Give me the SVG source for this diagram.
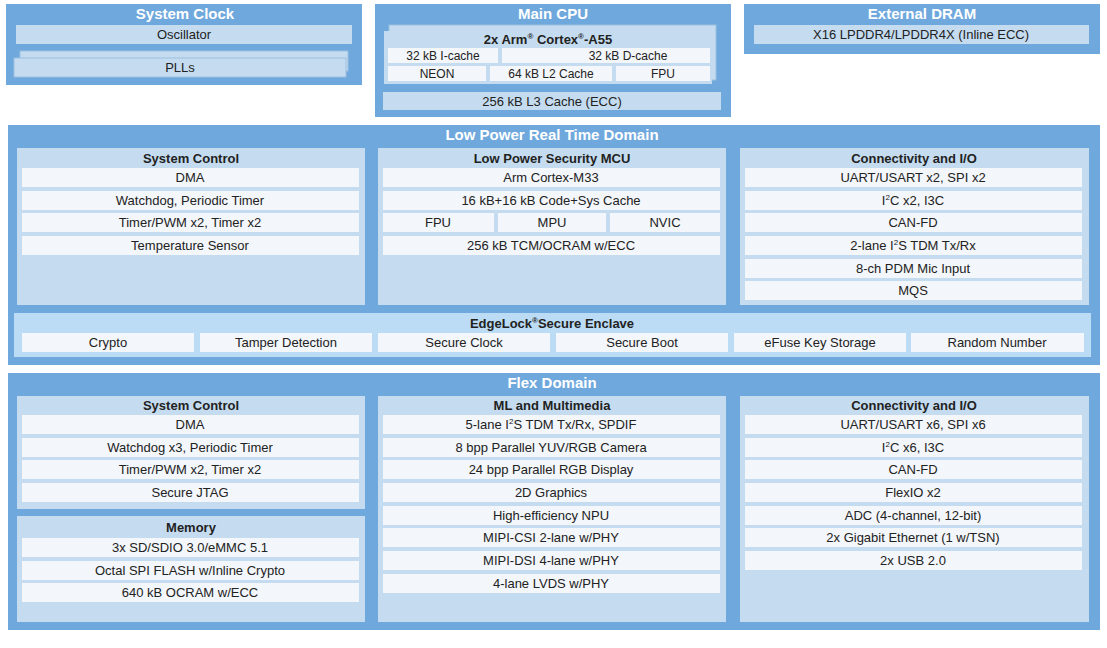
<svg xmlns="http://www.w3.org/2000/svg" width="1107" height="648" viewBox="0 0 1107 648">
<style>
.o{fill:#6fa8dc}
.p{fill:#c5dcf0}
.e{fill:#bcdcf5}
.c{fill:#f3f6fa}
.s{fill:#c5dcf0;stroke:#9cbfe0;stroke-width:1}
text{font-family:"Liberation Sans",Arial,sans-serif;text-anchor:middle;fill:#222}
.t{font-size:15px;font-weight:bold;fill:#fff}
.h{font-size:13px;font-weight:bold}
.i{font-size:13px}
</style>
<rect width="1107" height="648" fill="#fff"/>
<g id="sysclock">
<rect class="o" x="6" y="4" width="356" height="81"/>
<text class="t" x="185" y="19">System Clock</text>
<rect class="p" x="16" y="25" width="336" height="19"/><text class="i" x="184" y="39">Oscillator</text>
<rect class="s" x="20" y="51" width="328" height="20"/>
<rect class="s" x="14" y="58" width="332" height="19"/><text class="i" x="180" y="72">PLLs</text>
</g>
<g id="maincpu">
<rect class="o" x="375" y="4" width="356" height="113"/>
<text class="t" x="553" y="19">Main CPU</text>
<rect class="s" x="389" y="25" width="327" height="55"/>
<rect class="p" x="384" y="31" width="328" height="53"/>
<text class="h" x="548" y="44">2x Arm<tspan font-size="8" dy="-5">®</tspan><tspan dy="5"> Cortex</tspan><tspan font-size="8" dy="-5">®</tspan><tspan dy="5">-A55</tspan></text>
<rect class="c" x="388" y="48" width="110" height="15"/><text font-size="12" x="443" y="60">32 kB I-cache</text>
<rect class="c" x="502" y="48" width="208" height="15"/><text font-size="12" x="628" y="60">32 kB D-cache</text>
<rect class="c" x="388" y="66" width="98" height="15"/><text font-size="12" x="437" y="78">NEON</text>
<rect class="c" x="490" y="66" width="122" height="15"/><text font-size="12" x="551" y="78">64 kB L2 Cache</text>
<rect class="c" x="616" y="66" width="94" height="15"/><text font-size="12" x="663" y="78">FPU</text>
<rect class="p" x="383" y="92" width="338" height="18"/><text class="i" x="552" y="106">256 kB L3 Cache (ECC)</text>
</g>
<g id="dram">
<rect class="o" x="744" y="4" width="356" height="50"/>
<text class="t" x="922" y="19">External DRAM</text>
<rect class="p" x="754" y="25" width="335" height="19"/><text class="i" x="921" y="39">X16 LPDDR4/LPDDR4X (Inline ECC)</text>
</g>
<g id="lprt">
<rect class="o" x="8" y="125" width="1092" height="240"/>
<text class="t" x="552" y="140">Low Power Real Time Domain</text>
</g>
<g id="lp-sysctrl">
<rect class="p" x="17" y="148" width="348" height="157"/>
<text class="h" x="191" y="163">System Control</text>
<rect class="c" x="22" y="168" width="337" height="19"/><text class="i" x="190" y="182">DMA</text>
<rect class="c" x="22" y="191" width="337" height="19"/><text class="i" x="190" y="205">Watchdog, Periodic Timer</text>
<rect class="c" x="22" y="213" width="337" height="19"/><text class="i" x="190" y="227">Timer/PWM x2, Timer x2</text>
<rect class="c" x="22" y="236" width="337" height="19"/><text class="i" x="190" y="250">Temperature Sensor</text>
</g>
<g id="lp-mcu">
<rect class="p" x="378" y="148" width="348" height="157"/>
<text class="h" x="552" y="163">Low Power Security MCU</text>
<rect class="c" x="383" y="168" width="337" height="19"/><text class="i" x="551" y="182">Arm Cortex-M33</text>
<rect class="c" x="383" y="191" width="337" height="19"/><text class="i" x="551" y="205">16 kB+16 kB Code+Sys Cache</text>
<rect class="c" x="383" y="213" width="111" height="19"/><text class="i" x="438" y="227">FPU</text>
<rect class="c" x="498" y="213" width="108" height="19"/><text class="i" x="552" y="227">MPU</text>
<rect class="c" x="610" y="213" width="110" height="19"/><text class="i" x="665" y="227">NVIC</text>
<rect class="c" x="383" y="236" width="337" height="19"/><text class="i" x="551" y="250">256 kB TCM/OCRAM w/ECC</text>
</g>
<g id="lp-conn">
<rect class="p" x="740" y="148" width="349" height="157"/>
<text class="h" x="914" y="163">Connectivity and I/O</text>
<rect class="c" x="745" y="168" width="337" height="19"/><text class="i" x="913" y="182">UART/USART x2, SPI x2</text>
<rect class="c" x="745" y="191" width="337" height="19"/><text class="i" x="913" y="205">I<tspan font-size="8" dy="-5">2</tspan><tspan dy="5">C x2, I3C</tspan></text>
<rect class="c" x="745" y="213" width="337" height="19"/><text class="i" x="913" y="227">CAN-FD</text>
<rect class="c" x="745" y="236" width="337" height="19"/><text class="i" x="913" y="250">2-lane I<tspan font-size="8" dy="-5">2</tspan><tspan dy="5">S TDM Tx/Rx</tspan></text>
<rect class="c" x="745" y="259" width="337" height="19"/><text class="i" x="913" y="273">8-ch PDM Mic Input</text>
<rect class="c" x="745" y="281" width="337" height="19"/><text class="i" x="913" y="295">MQS</text>
</g>
<g id="edgelock">
<rect class="e" x="14" y="313" width="1077" height="44"/>
<text class="h" x="552" y="328">EdgeLock<tspan font-size="8" dy="-5">®</tspan><tspan dy="5">Secure Enclave</tspan></text>
<rect class="c" x="22" y="333" width="172" height="19"/><text class="i" x="108" y="347">Crypto</text>
<rect class="c" x="200" y="333" width="172" height="19"/><text class="i" x="286" y="347">Tamper Detection</text>
<rect class="c" x="378" y="333" width="172" height="19"/><text class="i" x="464" y="347">Secure Clock</text>
<rect class="c" x="556" y="333" width="172" height="19"/><text class="i" x="642" y="347">Secure Boot</text>
<rect class="c" x="734" y="333" width="172" height="19"/><text class="i" x="820" y="347">eFuse Key Storage</text>
<rect class="c" x="911" y="333" width="173" height="19"/><text class="i" x="997" y="347">Random Number</text>
</g>
<g id="flex">
<rect class="o" x="8" y="373" width="1092" height="257"/>
<text class="t" x="552" y="388">Flex Domain</text>
</g>
<g id="fx-sysctrl">
<rect class="p" x="17" y="396" width="348" height="113"/>
<text class="h" x="191" y="410">System Control</text>
<rect class="c" x="22" y="415" width="337" height="19"/><text class="i" x="190" y="429">DMA</text>
<rect class="c" x="22" y="438" width="337" height="19"/><text class="i" x="190" y="452">Watchdog x3, Periodic Timer</text>
<rect class="c" x="22" y="460" width="337" height="19"/><text class="i" x="190" y="474">Timer/PWM x2, Timer x2</text>
<rect class="c" x="22" y="483" width="337" height="19"/><text class="i" x="190" y="497">Secure JTAG</text>
</g>
<g id="fx-mem">
<rect class="p" x="17" y="516" width="348" height="106"/>
<text class="h" x="191" y="532">Memory</text>
<rect class="c" x="22" y="538" width="337" height="19"/><text class="i" x="190" y="552">3x SD/SDIO 3.0/eMMC 5.1</text>
<rect class="c" x="22" y="561" width="337" height="19"/><text class="i" x="190" y="575">Octal SPI FLASH w/Inline Crypto</text>
<rect class="c" x="22" y="583" width="337" height="19"/><text class="i" x="190" y="597">640 kB OCRAM w/ECC</text>
</g>
<g id="fx-ml">
<rect class="p" x="378" y="396" width="348" height="226"/>
<text class="h" x="552" y="410">ML and Multimedia</text>
<rect class="c" x="383" y="415" width="337" height="19"/><text class="i" x="551" y="429">5-lane I<tspan font-size="8" dy="-5">2</tspan><tspan dy="5">S TDM Tx/Rx, SPDIF</tspan></text>
<rect class="c" x="383" y="438" width="337" height="19"/><text class="i" x="551" y="452">8 bpp Parallel YUV/RGB Camera</text>
<rect class="c" x="383" y="460" width="337" height="19"/><text class="i" x="551" y="474">24 bpp Parallel RGB Display</text>
<rect class="c" x="383" y="483" width="337" height="19"/><text class="i" x="551" y="497">2D Graphics</text>
<rect class="c" x="383" y="506" width="337" height="19"/><text class="i" x="551" y="520">High-efficiency NPU</text>
<rect class="c" x="383" y="528" width="337" height="19"/><text class="i" x="551" y="542">MIPI-CSI 2-lane w/PHY</text>
<rect class="c" x="383" y="551" width="337" height="19"/><text class="i" x="551" y="565">MIPI-DSI 4-lane w/PHY</text>
<rect class="c" x="383" y="574" width="337" height="19"/><text class="i" x="551" y="588">4-lane LVDS w/PHY</text>
</g>
<g id="fx-conn">
<rect class="p" x="740" y="396" width="349" height="226"/>
<text class="h" x="914" y="410">Connectivity and I/O</text>
<rect class="c" x="745" y="415" width="337" height="19"/><text class="i" x="913" y="429">UART/USART x6, SPI x6</text>
<rect class="c" x="745" y="438" width="337" height="19"/><text class="i" x="913" y="452">I<tspan font-size="8" dy="-5">2</tspan><tspan dy="5">C x6, I3C</tspan></text>
<rect class="c" x="745" y="460" width="337" height="19"/><text class="i" x="913" y="474">CAN-FD</text>
<rect class="c" x="745" y="483" width="337" height="19"/><text class="i" x="913" y="497">FlexIO x2</text>
<rect class="c" x="745" y="506" width="337" height="19"/><text class="i" x="913" y="520">ADC (4-channel, 12-bit)</text>
<rect class="c" x="745" y="528" width="337" height="19"/><text class="i" x="913" y="542">2x Gigabit Ethernet (1 w/TSN)</text>
<rect class="c" x="745" y="551" width="337" height="19"/><text class="i" x="913" y="565">2x USB 2.0</text>
</g>
<g id="connectors"></g>
</svg>
